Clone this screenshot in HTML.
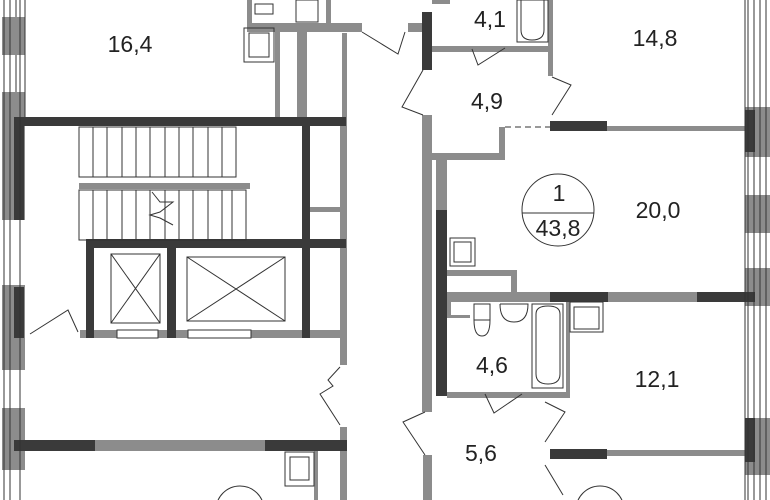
<!DOCTYPE html>
<html><head><meta charset="utf-8"><style>html,body{margin:0;background:#fff;width:770px;height:500px;overflow:hidden}svg{display:block}text{font-family:"Liberation Sans",sans-serif;fill:#222}</style></head><body>
<svg width="770" height="500" viewBox="0 0 770 500" xmlns="http://www.w3.org/2000/svg">
<g fill="#8c8c8c">
<rect x="2" y="17" width="23" height="38"/><rect x="2" y="92" width="23" height="128"/>
<rect x="2" y="285" width="23" height="85"/><rect x="2" y="408" width="23" height="62"/>
<rect x="745" y="107" width="25" height="50"/><rect x="745" y="195" width="25" height="38"/>
<rect x="745" y="268" width="25" height="38"/><rect x="745" y="418" width="25" height="57"/>
<rect x="247" y="0" width="5" height="25"/><rect x="326" y="0" width="5" height="25"/>
<rect x="247" y="23" width="115" height="9"/><rect x="408" y="23" width="14" height="9"/>
<rect x="275" y="28" width="5" height="89"/><rect x="297" y="28" width="10" height="89"/><rect x="342" y="33" width="5" height="84"/>
<rect x="310" y="207" width="35" height="5"/><rect x="340" y="117" width="7" height="248"/>
<rect x="79" y="183" width="171" height="6"/>
<rect x="80" y="330" width="267" height="8"/>
<rect x="95" y="440" width="170" height="11"/>
<rect x="340" y="427" width="7" height="73"/><rect x="314" y="451" width="4" height="49"/>
<rect x="432" y="0" width="18" height="4"/><rect x="432" y="46" width="120" height="6"/>
<rect x="548" y="0" width="5" height="76"/>
<rect x="422" y="115" width="10" height="297"/><rect x="423" y="455" width="9" height="45"/>
<rect x="436" y="155" width="11" height="55"/>
<rect x="432" y="153" width="73" height="7"/><rect x="499" y="127" width="6" height="30"/>
<rect x="607" y="126" width="138" height="5"/>
<rect x="447" y="270" width="70" height="6"/><rect x="511" y="270" width="6" height="26"/>
<rect x="447" y="292" width="103" height="10"/><rect x="608" y="292" width="89" height="10"/>
<rect x="447" y="302" width="4" height="16"/><rect x="447" y="315" width="23" height="3"/>
<rect x="566" y="302" width="4" height="96"/><rect x="447" y="392" width="123" height="6"/>
<rect x="607" y="450" width="138" height="6"/>
</g>
<g fill="#3a3a3a">
<rect x="14" y="117" width="332" height="9"/><rect x="14" y="117" width="10" height="103"/>
<rect x="14" y="287" width="10" height="51"/>
<rect x="86" y="239" width="260" height="9"/>
<rect x="302" y="117" width="8" height="221"/><rect x="86" y="248" width="8" height="90"/><rect x="167" y="248" width="9" height="90"/>
<rect x="14" y="440" width="81" height="11"/><rect x="265" y="440" width="82" height="11"/>
<rect x="422" y="12" width="10" height="58"/>
<rect x="436" y="210" width="11" height="186"/>
<rect x="550" y="121" width="57" height="10"/><rect x="745" y="110" width="10" height="42"/>
<rect x="550" y="292" width="58" height="10"/><rect x="697" y="292" width="58" height="10"/>
<rect x="550" y="449" width="57" height="10"/><rect x="745" y="418" width="10" height="44"/>
</g>
<g stroke="#333" stroke-width="1" fill="none">
<path d="M4 0V500M10 0V500M16 0V17M16 55V92M20 0V500M25 0V117"/>
<path d="M748 0V500M754 0V500M760 0V500M766 0V500M745 0V500"/>
<rect x="79" y="127" width="157" height="50"/>
<path d="M93 127v50M107 127v50M122 127v50M136 127v50M150 127v50M165 127v50M179 127v50M193 127v50M208 127v50M222 127v50"/>
<rect x="79" y="190" width="167" height="50"/>
<path d="M93 190v50M107 190v50M122 190v50M136 190v50M150 190v50M165 190v50M179 190v50M193 190v50M208 190v50M222 190v50M232 190v50"/>
<path d="M152 192l8 10 13 0-13 10-10 3 10 3 13 7"/>
<rect x="111" y="254" width="49" height="69"/><path d="M111 254L160 323M160 254L111 323"/>
<rect x="187" y="257" width="98" height="64"/><path d="M187 257L285 321M285 257L187 321"/>
<rect x="117" y="330" width="41" height="8" fill="#fff"/><rect x="188" y="330" width="63" height="8" fill="#fff"/>
<path d="M30 334L68 310L78 332"/>
<path d="M340 367L328 380L333 386L320 394L340 425"/>
<path d="M362 32L398 54L405 32"/>
<path d="M423 70L402 107L423 115"/>
<path d="M472 49L478 65L505 48"/>
<path d="M552 77L571 85L552 115"/>
<path d="M485 394L494 413L522 394"/>
<path d="M545 402L565 412L545 442"/>
<path d="M425 412L403 422L425 455"/>
<path d="M545 465L563 495"/>
<path d="M505 127H550" stroke-dasharray="6 4"/>
<rect x="244" y="28" width="30" height="34"/><rect x="249" y="33" width="20" height="24"/>
<path d="M255 4h18v10h-18z"/><rect x="296" y="0" width="22" height="22"/>
<rect x="285" y="452" width="29" height="34"/><rect x="290" y="457" width="19" height="23"/>
<rect x="517" y="0" width="31" height="42"/><path d="M521 0v30q0 10 11 10q12 0 12-10v-30"/>
<rect x="450" y="238" width="25" height="28"/><rect x="454" y="242" width="17" height="20"/>
<rect x="532" y="304" width="31" height="84"/><path d="M536 314q0-8 12-8q12 0 12 8v60q0 10-12 10q-12 0-12-10z"/>
<rect x="570" y="302" width="33" height="30"/><rect x="574" y="307" width="25" height="22"/>
<path d="M474 304h16v16h-16zM474 320q0 16 8 16q8 0 8-16"/>
<path d="M500 304h28q0 18-14 18q-14 0-14-18"/>
<circle cx="558" cy="210" r="36"/><path d="M522 213H594"/>
<circle cx="240" cy="510" r="24"/><circle cx="600" cy="510" r="24"/>
</g>
<g font-size="23">
<text x="130" y="52" text-anchor="middle">16,4</text>
<text x="490" y="27" text-anchor="middle">4,1</text>
<text x="655" y="46" text-anchor="middle">14,8</text>
<text x="487" y="109" text-anchor="middle">4,9</text>
<text x="559" y="201" text-anchor="middle">1</text>
<text x="558" y="236" text-anchor="middle">43,8</text>
<text x="658" y="218" text-anchor="middle">20,0</text>
<text x="492" y="373" text-anchor="middle">4,6</text>
<text x="657" y="387" text-anchor="middle">12,1</text>
<text x="481" y="461" text-anchor="middle">5,6</text>
</g>
</svg>
</body></html>
